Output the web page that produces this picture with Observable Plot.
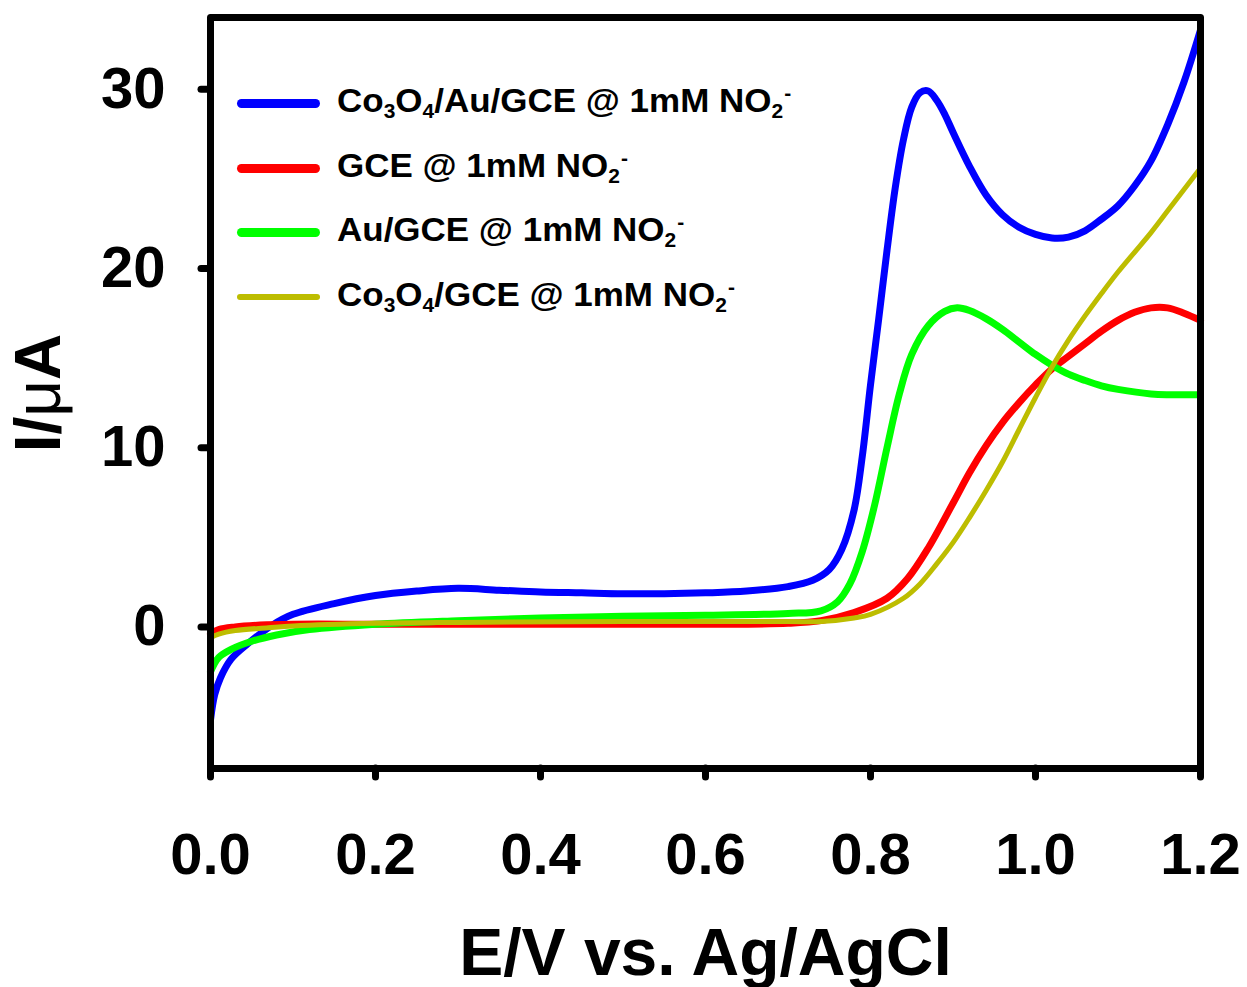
<!DOCTYPE html>
<html>
<head>
<meta charset="utf-8">
<script src="https://cdn.jsdelivr.net/npm/d3@7"></script>
<script src="https://cdn.jsdelivr.net/npm/@observablehq/plot@0.6"></script>
<style>
  html, body { margin: 0; padding: 0; background: #fff; }
  #wrap { position: relative; width: 1247px; height: 987px; font-family: "Liberation Sans", Arial, sans-serif; }
  #legend { position: absolute; left: 0; top: 0; }
  .entry { position: absolute; left: 237px; height: 40px; display: flex; align-items: center; }
  .swatch { width: 83px; border-radius: 6px; }
  .lab { position: absolute; left: 100px; white-space: nowrap; font-weight: bold; font-size: 33px; color: #000; transform: scaleX(1.06); transform-origin: left center; }
  .lab sub { font-size: 0.6em; vertical-align: -0.32em; }
  .lab sup { font-size: 0.6em; vertical-align: 0.6em; margin-left: 0.05em; }
</style>
</head>
<body>
<div id="wrap"><div id="chart"></div><div id="legend"></div></div>
<script>
// ---- data (E / V vs Ag/AgCl, I / µA) ----
const E_Co3O4_Au = [0, 0.005, 0.012, 0.025, 0.045, 0.075, 0.1, 0.15, 0.2, 0.25, 0.3, 0.35, 0.4, 0.45, 0.5, 0.55, 0.6, 0.65, 0.7, 0.73, 0.75, 0.765, 0.78, 0.79, 0.8, 0.81, 0.82, 0.83, 0.84, 0.85, 0.86, 0.87, 0.88, 0.89, 0.9, 0.92, 0.94, 0.96, 0.98, 1.0, 1.02, 1.04, 1.06, 1.08, 1.1, 1.12, 1.14, 1.16, 1.18, 1.2];
const I_Co3O4_Au = [-5.2, -3.8, -2.85, -1.8, -0.95, 0.1, 0.7, 1.3, 1.75, 2.0, 2.15, 2.05, 1.95, 1.9, 1.85, 1.85, 1.9, 2.0, 2.25, 2.6, 3.2, 4.3, 6.5, 9.5, 13.5, 17.2, 21, 24.5, 27.2, 29, 29.8, 29.9, 29.4, 28.6, 27.6, 25.7, 24.1, 23.0, 22.3, 21.9, 21.7, 21.75, 22.1, 22.75, 23.5, 24.6, 26.0, 28.0, 30.4, 33.3];

const E_GCE = [0, 0.01, 0.03, 0.06, 0.1, 0.2, 0.4, 0.6, 0.7, 0.74, 0.78, 0.82, 0.845, 0.87, 0.9, 0.92, 0.94, 0.96, 0.98, 1.0, 1.02, 1.04, 1.06, 1.08, 1.1, 1.12, 1.14, 1.16, 1.18, 1.2];
const I_GCE = [-0.4, -0.15, 0.0, 0.1, 0.15, 0.15, 0.15, 0.15, 0.2, 0.35, 0.8, 1.6, 2.7, 4.4, 6.9, 8.6, 10.1, 11.4, 12.5, 13.5, 14.4, 15.1, 15.8, 16.5, 17.1, 17.55, 17.8, 17.8, 17.5, 17.1];

const E_Au = [0, 0.01, 0.025, 0.05, 0.08, 0.12, 0.2, 0.3, 0.4, 0.5, 0.6, 0.7, 0.74, 0.76, 0.775, 0.79, 0.805, 0.82, 0.835, 0.85, 0.87, 0.89, 0.905, 0.92, 0.94, 0.96, 0.98, 1.0, 1.02, 1.04, 1.06, 1.08, 1.1, 1.14, 1.2];
const I_Au = [-2.5, -1.7, -1.25, -0.8, -0.45, -0.15, 0.15, 0.35, 0.5, 0.6, 0.65, 0.75, 0.9, 1.4, 2.4, 4.2, 6.8, 10, 13, 15.2, 16.8, 17.6, 17.8, 17.65, 17.2, 16.6, 15.9, 15.2, 14.6, 14.1, 13.75, 13.45, 13.25, 13.0, 12.95];

const E_Co3O4 = [0, 0.01, 0.03, 0.07, 0.1, 0.2, 0.3, 0.5, 0.7, 0.74, 0.78, 0.8, 0.84, 0.86, 0.88, 0.9, 0.92, 0.94, 0.96, 0.98, 1.0, 1.02, 1.04, 1.06, 1.08, 1.1, 1.12, 1.14, 1.16, 1.18, 1.2];
const I_Co3O4 = [-0.6, -0.4, -0.2, -0.05, 0.05, 0.2, 0.25, 0.3, 0.3, 0.3, 0.5, 0.7, 1.6, 2.4, 3.5, 4.7, 6.1, 7.6, 9.2, 11.0, 12.8, 14.5, 16.0, 17.35, 18.6, 19.8, 20.9, 22.0, 23.2, 24.4, 25.6];

const seriesNames = ["Co3O4/Au/GCE", "GCE", "Au/GCE", "Co3O4/GCE"];
const seriesColors = ["#0000ff", "#ff0000", "#00ff00", "#bdbd00"];
const seriesWidths = [7, 7, 7, 5];
const xTicks = [0, 0.2, 0.4, 0.6, 0.8, 1.0, 1.2];
const yTicks = [0, 10, 20, 30];

const toRows = (E, I, name) => E.map((e, i) => ({E: e, I: I[i], s: name}));
const tables = [
  toRows(E_Co3O4_Au, I_Co3O4_Au, seriesNames[0]),
  toRows(E_GCE, I_GCE, seriesNames[1]),
  toRows(E_Au, I_Au, seriesNames[2]),
  toRows(E_Co3O4, I_Co3O4, seriesNames[3])
];

const font = "Liberation Sans, Arial, sans-serif";

const plot = Plot.plot({
  width: 1247,
  height: 987,
  marginLeft: 210,
  marginRight: 47,
  marginTop: 17,
  marginBottom: 219,
  style: {fontFamily: font, background: "#fff", color: "#000", overflow: "visible"},
  x: {domain: [0, 1.2]},
  y: {domain: [-7.9, 34]},
  marks: [
    ...tables.map((t, k) => Plot.line(t, {x: "E", y: "I", stroke: seriesColors[k], strokeWidth: seriesWidths[k], curve: "catmull-rom", strokeLinecap: "round", strokeLinejoin: "round"})),
    Plot.frame({stroke: "#000", strokeWidth: 7, strokeLinejoin: "round"}),
    Plot.axisX({ticks: xTicks, tickSize: 9, strokeWidth: 7, strokeLinecap: "round", tickFormat: () => "", label: null}),
    Plot.axisY({ticks: yTicks, tickSize: 9, strokeWidth: 7, strokeLinecap: "round", tickFormat: () => "", label: null}),
    Plot.axisX({ticks: xTicks, tickSize: 0, tickPadding: 64, tickFormat: d3.format(".1f"), fontSize: 58, fontWeight: "bold",
      label: "E/V vs. Ag/AgCl", labelAnchor: "center", labelOffset: 206, labelArrow: "none"}),
    Plot.axisY({ticks: yTicks, tickSize: 0, tickPadding: 45, tickFormat: d3.format("d"), fontSize: 58, fontWeight: "bold",
      label: "I/μA", labelAnchor: "center", labelOffset: 196, labelArrow: "none"})
  ]
});
document.getElementById("chart").appendChild(plot);

// style axis labels
d3.select(plot).selectAll("text").each(function() {
  const t = this.textContent;
  if (t === "E/V vs. Ag/AgCl") d3.select(this).attr("font-size", 66).attr("font-weight", "bold");
  if (t === "I/μA") {
    const s = d3.select(this).attr("font-size", 64).attr("font-weight", "bold");
    s.text(null);
    s.append("tspan").text("I/");
    s.append("tspan").attr("font-weight", "normal").text("μ");
    s.append("tspan").text("A");
  }
});

// legend overlay
const legendLabels = [
  "Co<sub>3</sub>O<sub>4</sub>/Au/GCE @ 1mM NO<sub>2</sub><sup>-</sup>",
  "GCE @ 1mM NO<sub>2</sub><sup>-</sup>",
  "Au/GCE @ 1mM NO<sub>2</sub><sup>-</sup>",
  "Co<sub>3</sub>O<sub>4</sub>/GCE @ 1mM NO<sub>2</sub><sup>-</sup>"
];
const legendTops = [83, 148, 212, 277];
const legendSwatchH = [9, 9, 9, 6];
const lg = document.getElementById("legend");
legendLabels.forEach((html, k) => {
  const e = document.createElement("div");
  e.className = "entry";
  e.style.top = legendTops[k] + "px";
  e.innerHTML = `<div class="swatch" style="background:${seriesColors[k]};height:${legendSwatchH[k]}px"></div><div class="lab">${html}</div>`;
  lg.appendChild(e);
});
</script>
</body>
</html>
